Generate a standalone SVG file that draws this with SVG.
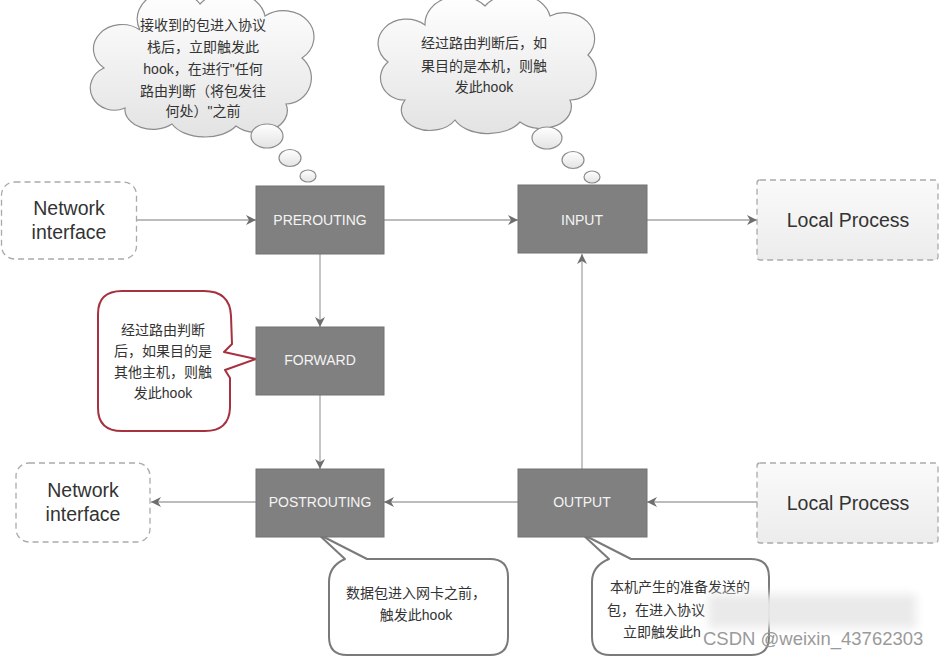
<svg xmlns="http://www.w3.org/2000/svg" width="940" height="657" viewBox="0 0 940 657">
<style>
.node rect{fill:#808080;stroke:#727272;stroke-width:1}
.node text{font-family:"Liberation Sans",Arial,sans-serif;font-size:14px;fill:#f4f4f4;text-anchor:middle}
.ext text{font-family:"Liberation Sans",Arial,sans-serif;font-size:19.5px;fill:#333;text-anchor:middle}
.ni{fill:#fff;stroke:#aaa;stroke-width:1.3;stroke-dasharray:6 4}
.lp{fill:url(#lpg);stroke:#aaa;stroke-width:1.3;stroke-dasharray:6 4}
.conn line{stroke:#a6a6a6;stroke-width:1.3;fill:none;marker-end:url(#arr)}
.cloud{fill:url(#cg);stroke:#8c8c8c;stroke-width:1.2}
.note{font-family:"Liberation Sans","Noto Sans CJK SC",sans-serif;font-size:14px;fill:#333;text-anchor:middle}
.bub{fill:#fff;stroke:#7a7a7a;stroke-width:2;stroke-linejoin:round}
.red{fill:#fff;stroke:#a5323e;stroke-width:2;stroke-linejoin:round}
</style>
<defs>
<linearGradient id="cg" x1="0" y1="0" x2="0" y2="1"><stop offset="0" stop-color="#ffffff"/><stop offset="1" stop-color="#e3e3e3"/></linearGradient>
<linearGradient id="lpg" x1="0" y1="0" x2="0" y2="1"><stop offset="0" stop-color="#fafafa"/><stop offset="1" stop-color="#ececec"/></linearGradient>
<marker id="arr" viewBox="0 0 10 10" refX="10" refY="5" markerWidth="10" markerHeight="10" markerUnits="userSpaceOnUse" orient="auto">
<path d="M0,0 L10,5 L0,10 L3,5 Z" fill="#6e6e6e"/>
</marker>
<filter id="blur" x="-20%" y="-50%" width="140%" height="200%"><feGaussianBlur stdDeviation="5"/></filter>
</defs>

<g id="cloud-prerouting">
<path class="cloud" d="M125,108 A24,22 0 0 1 104,68 A28,24 0 0 1 140,30 A34,28 0 0 1 200,4 A36,28 0 0 1 265,16 A30,26 0 0 1 302,58 A26,26 0 0 1 286,104 A30,22 0 0 1 236,126 A36,22 0 0 1 172,124 A28,20 0 0 1 125,108 Z"/>
<ellipse class="cloud" cx="267" cy="136" rx="16" ry="12"/>
<ellipse class="cloud" cx="290" cy="158" rx="11" ry="8.5"/>
<ellipse class="cloud" cx="308" cy="176" rx="8" ry="6"/>
<text class="note" x="203" y="30">接收到的包进入协议</text>
<text class="note" x="203" y="52">栈后，立即触发此</text>
<text class="note" x="203" y="74">hook，在进行"任何</text>
<text class="note" x="203" y="96">路由判断（将包发往</text>
<text class="note" x="203" y="116">何处）"之前</text>
</g>

<g id="cloud-input">
<path class="cloud" d="M405,100 A24,22 0 0 1 388,62 A28,24 0 0 1 425,25 A34,28 0 0 1 485,6 A36,28 0 0 1 550,16 A30,26 0 0 1 588,55 A26,26 0 0 1 570,100 A30,22 0 0 1 520,122 A36,22 0 0 1 455,120 A28,20 0 0 1 405,100 Z"/>
<ellipse class="cloud" cx="547" cy="138" rx="15" ry="11"/>
<ellipse class="cloud" cx="573" cy="160" rx="11" ry="8.5"/>
<ellipse class="cloud" cx="592" cy="177" rx="8" ry="6"/>
<text class="note" x="484" y="48">经过路由判断后，如</text>
<text class="note" x="484" y="71">果目的是本机，则触</text>
<text class="note" x="484" y="92">发此hook</text>
</g>

<g id="note-forward">
<path class="red" d="M122,291 L204,291 Q230,291 231,316 L232,344 L224,352 L256,359 L225,370 L230,378 L230,408 Q229,431 205,431 L122,431 Q98,431 98,408 L98,314 Q98,291 122,291 Z"/>
<text class="note" x="163" y="335">经过路由判断</text>
<text class="note" x="163" y="356">后，如果目的是</text>
<text class="note" x="163" y="377">其他主机，则触</text>
<text class="note" x="163" y="398">发此hook</text>
</g>

<g id="note-postrouting">
<path class="bub" d="M367,559 L490,559 Q508,559 508,577 L508,637 Q508,655 490,655 L347,655 Q329,655 329,637 L329,582 Q329,566 345,559 L318,534 Z"/>
<text class="note" x="416" y="598">数据包进入网卡之前，</text>
<text class="note" x="416" y="620">触发此hook</text>
</g>

<g id="note-output">
<path class="bub" d="M631,559 L751,559 Q769,559 769,577 L769,637 Q769,655 751,655 L610,655 Q592,655 592,637 L592,582 Q592,566 609,559 L582,534 Z"/>
<text class="note" x="680" y="592">本机产生的准备发送的</text>
<text class="note" x="607" y="615" style="text-anchor:start">包，在进入协议</text>
<text class="note" x="623" y="637" style="text-anchor:start">立即触发此h</text>
</g>

<g id="conns" class="conn">
<line x1="137" y1="220" x2="256" y2="220"/>
<line x1="384" y1="220" x2="518" y2="220"/>
<line x1="647" y1="220" x2="757" y2="220"/>
<line x1="320" y1="254" x2="320" y2="327"/>
<line x1="320" y1="395" x2="320" y2="469"/>
<line x1="582" y1="469" x2="582" y2="254"/>
<line x1="757" y1="502" x2="647" y2="502"/>
<line x1="518" y1="502" x2="384" y2="502"/>
<line x1="256" y1="502" x2="151" y2="502"/>
</g>

<g id="n-prerouting" class="node"><rect x="256" y="186" width="128" height="68"/><text x="320" y="225">PREROUTING</text></g>
<g id="n-input" class="node"><rect x="518" y="185" width="129" height="68"/><text x="582" y="225">INPUT</text></g>
<g id="n-forward" class="node"><rect x="256" y="327" width="128" height="68"/><text x="320" y="365">FORWARD</text></g>
<g id="n-postrouting" class="node"><rect x="256" y="469" width="128" height="68"/><text x="320" y="507">POSTROUTING</text></g>
<g id="n-output" class="node"><rect x="518" y="469" width="129" height="68"/><text x="582" y="507">OUTPUT</text></g>

<g id="n-net-in" class="ext"><rect class="ni" x="1.5" y="182" width="135" height="77" rx="13"/><text x="69" y="215">Network</text><text x="69" y="239">interface</text></g>
<g id="n-local-in" class="ext"><rect class="lp" x="757" y="180" width="181" height="80" rx="3"/><text x="848" y="227">Local Process</text></g>
<g id="n-net-out" class="ext"><rect class="ni" x="16" y="463" width="134" height="79" rx="13"/><text x="83" y="497">Network</text><text x="83" y="521">interface</text></g>
<g id="n-local-out" class="ext"><rect class="lp" x="757" y="463" width="181" height="80" rx="3"/><text x="848" y="510">Local Process</text></g>

<rect x="708" y="594" width="208" height="34" fill="#e9e9e9" opacity="0.95" filter="url(#blur)"/>
<text x="703" y="645" style="font-family:'Liberation Sans',Arial,sans-serif;font-size:18.5px;fill:#9a9a9a">CSDN @weixin_43762303</text>
</svg>
